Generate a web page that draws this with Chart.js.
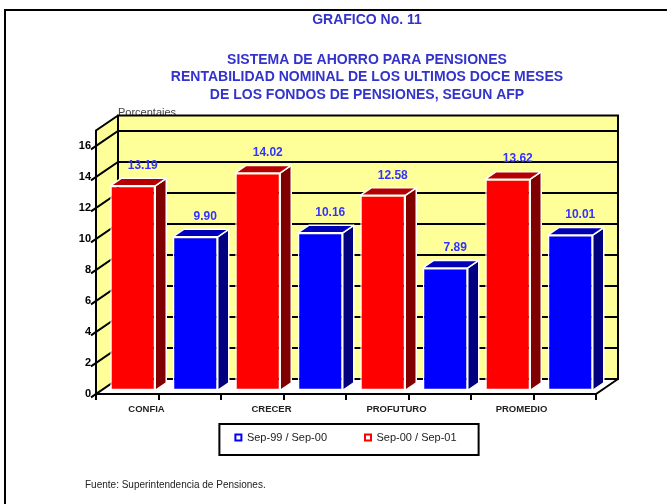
<!DOCTYPE html>
<html lang="es">
<head>
<meta charset="UTF-8">
<title>Grafico No. 11</title>
<script src="https://cdn.jsdelivr.net/npm/chart.js"></script>
<style>
    html, body { margin: 0; padding: 0; background: #fff; }
    #chart { display: block; }
</style>
</head>
<body>
<canvas id="chart" width="667" height="504"></canvas>
<script>
    const categories = ['CONFIA', 'CRECER', 'PROFUTURO', 'PROMEDIO'];
    const seriesNames = ['Sep-00 / Sep-01', 'Sep-99 / Sep-00'];
    const valuesSep00Sep01 = [13.19, 14.02, 12.58, 13.62];
    const valuesSep99Sep00 = [9.90, 10.16, 7.89, 10.01];
    const yTicks = [0, 2, 4, 6, 8, 10, 12, 14, 16];
    const yMax = 17;

    const titleText = 'GRAFICO No. 11';
    const subtitleLines = [
        'SISTEMA DE AHORRO PARA PENSIONES',
        'RENTABILIDAD NOMINAL DE LOS ULTIMOS DOCE MESES',
        'DE LOS FONDOS DE PENSIONES, SEGUN AFP'
    ];
    const axisTitle = 'Porcentajes';
    const sourceNote = 'Fuente: Superintendencia de Pensiones.';

    const FONT = "'Liberation Sans', Arial, sans-serif";
    const WALL = '#FFFF99';
    const DEPTH = { x: 22, y: -15 };   // depth of the 3d box
    const faceColors = [
        { front: '#FF0000', top: '#B40000', side: '#800000' },
        { front: '#0000FF', top: '#0000B8', side: '#000080' }
    ];

    Chart.defaults.font.family = FONT;

    function line(ctx, pts) {
        ctx.beginPath();
        ctx.moveTo(pts[0][0], pts[0][1]);
        for (let i = 1; i < pts.length; i++) ctx.lineTo(pts[i][0], pts[i][1]);
        ctx.stroke();
    }

    function poly(ctx, pts) {
        ctx.beginPath();
        ctx.moveTo(pts[0][0], pts[0][1]);
        for (let i = 1; i < pts.length; i++) ctx.lineTo(pts[i][0], pts[i][1]);
        ctx.closePath();
        ctx.fill();
        ctx.stroke();
    }

    const box3d = {
        id: 'box3d',
        beforeDraw(chart) {
            const ctx = chart.ctx;
            ctx.save();
            ctx.strokeStyle = '#000';
            ctx.lineWidth = 2;
            line(ctx, [[5, chart.height], [5, 10], [chart.width, 10]]);
            ctx.font = '10px ' + FONT;
            ctx.fillStyle = '#222';
            ctx.textBaseline = 'alphabetic';
            ctx.fillText(sourceNote, 85, 488);
            ctx.restore();
        },
        beforeDatasetsDraw(chart) {
            const { ctx, chartArea: a, scales: { y } } = chart;
            const dx = DEPTH.x, dy = DEPTH.y;
            const top = y.getPixelForValue(yMax);
            const bot = y.getPixelForValue(0);
            ctx.save();

            ctx.font = '11px ' + FONT;
            ctx.fillStyle = '#444';
            ctx.textAlign = 'left';
            ctx.textBaseline = 'alphabetic';
            ctx.fillText(axisTitle, a.left + dx, top + dy);

            // side and back walls
            ctx.fillStyle = WALL;
            ctx.beginPath();
            ctx.moveTo(a.left, top);
            ctx.lineTo(a.left + dx, top + dy);
            ctx.lineTo(a.right + dx, top + dy);
            ctx.lineTo(a.right + dx, bot + dy);
            ctx.lineTo(a.left + dx, bot + dy);
            ctx.lineTo(a.left, bot);
            ctx.closePath();
            ctx.fill();

            ctx.strokeStyle = '#000';
            ctx.lineWidth = 2;
            const k = dy / dx;
            yTicks.forEach(v => {
                const py = y.getPixelForValue(v);
                line(ctx, [[a.left - 5, py - k * 5], [a.left + dx, py + dy], [a.right + dx, py + dy]]);
            });
            ctx.strokeRect(a.left + dx, top + dy, a.right - a.left, bot - top);
            line(ctx, [[a.left + dx, top + dy], [a.left, top], [a.left, bot], [a.right, bot], [a.right + dx, bot + dy]]);

            // ticks on the floor edge: category edges and category centres
            const step = (a.right - a.left) / (categories.length * 2);
            ctx.beginPath();
            for (let i = 0; i <= categories.length * 2; i++) {
                const px = Math.round(a.left + i * step);
                ctx.moveTo(px, bot);
                ctx.lineTo(px, bot + 6);
            }
            ctx.stroke();
            ctx.restore();

            // bars stand a quarter of the way into the box
            ctx.save();
            ctx.translate(dx / 4, dy / 4);
        },
        afterDatasetsDraw(chart) {
            const ctx = chart.ctx;
            const sx = DEPTH.x / 2, sy = DEPTH.y / 2;
            ctx.lineWidth = 1.5;
            ctx.strokeStyle = '#fff';
            ctx.lineJoin = 'round';
            chart.data.datasets.forEach((ds, i) => {
                const c = faceColors[i];
                chart.getDatasetMeta(i).data.forEach((bar, j) => {
                    const { x: bx, y: by, base, width } = bar.getProps(['x', 'y', 'base', 'width'], true);
                    const l = bx - width / 2, r = bx + width / 2;
                    ctx.fillStyle = c.side;
                    poly(ctx, [[r, by], [r + sx, by + sy], [r + sx, base + sy], [r, base]]);
                    ctx.fillStyle = c.top;
                    poly(ctx, [[l, by], [l + sx, by + sy], [r + sx, by + sy], [r, by]]);

                    ctx.font = 'bold 12px ' + FONT;
                    ctx.fillStyle = '#3333FF';
                    ctx.textAlign = 'center';
                    ctx.textBaseline = 'middle';
                    ctx.fillText(ds.data[j].toFixed(2), bx + 10, by - 20);
                });
            });
            ctx.restore();
        },
        afterDraw(chart) {
            const ctx = chart.ctx;
            const hb = chart.legend.legendHitBoxes;
            if (!hb || !hb.length) return;
            const l = Math.min(...hb.map(h => h.left)) - 16;
            const r = Math.max(...hb.map(h => h.left + h.width)) + 22;
            const t = hb[0].top - 8;
            ctx.save();
            ctx.strokeStyle = '#000';
            ctx.lineWidth = 2;
            ctx.strokeRect(l, t, r - l, 31);
            ctx.restore();
        }
    };

    new Chart(document.getElementById('chart'), {
        type: 'bar',
        data: {
            labels: categories,
            datasets: [{
                label: seriesNames[0],
                data: valuesSep00Sep01,
                backgroundColor: faceColors[0].front,
                borderColor: '#fff',
                borderWidth: 1.5,
                borderSkipped: false
            }, {
                label: seriesNames[1],
                data: valuesSep99Sep00,
                backgroundColor: faceColors[1].front,
                borderColor: '#fff',
                borderWidth: 1.5,
                borderSkipped: false
            }]
        },
        options: {
            responsive: false,
            animation: false,
            events: [],
            devicePixelRatio: 1,
            categoryPercentage: 1.0,
            barPercentage: 0.72,
            layout: { padding: { left: 67, right: 0, top: 0, bottom: 51 } },
            scales: {
                x: {
                    offset: true,
                    grid: { display: false, drawTicks: false },
                    border: { display: false },
                    ticks: {
                        color: '#222',
                        font: { size: 9.5, weight: 'bold' },
                        // mirrored with a negative padding: labels sit below the axis
                        // without taking height away from the legend
                        mirror: true,
                        padding: -21,
                        labelOffset: -12,
                        maxRotation: 0,
                        autoSkip: false
                    },
                    afterFit(s) { s.height = 0; }
                },
                y: {
                    min: 0,
                    max: yMax,
                    grid: { display: false, drawTicks: false },
                    border: { display: false },
                    ticks: {
                        color: '#000',
                        font: { size: 11, weight: 'bold' },
                        padding: 5
                    },
                    afterBuildTicks(s) { s.ticks = yTicks.map(v => ({ value: v })); },
                    afterFit(s) { s.width = 29; }
                },
                y2: {
                    position: 'right',
                    grid: { display: false },
                    border: { display: false },
                    ticks: { display: false },
                    afterFit(s) { s.width = 71; }
                }
            },
            plugins: {
                title: {
                    display: true,
                    text: titleText,
                    color: '#3333CC',
                    font: { size: 14, weight: 'bold' },
                    padding: { top: 11.4, bottom: 0 }
                },
                subtitle: {
                    display: true,
                    text: subtitleLines,
                    color: '#3333CC',
                    font: { size: 14, weight: 'bold', lineHeight: 1.25 },
                    padding: { top: 22.85, bottom: 26.95 }
                },
                legend: {
                    position: 'bottom',
                    fullSize: false,
                    reverse: true,
                    labels: {
                        color: '#222',
                        font: { size: 11 },
                        boxWidth: 6,
                        boxHeight: 6,
                        padding: 38,
                        generateLabels(chart) {
                            return Chart.defaults.plugins.legend.labels.generateLabels(chart).map(it => {
                                it.strokeStyle = it.fillStyle;
                                it.fillStyle = '#fff';
                                it.lineWidth = 2;
                                return it;
                            });
                        }
                    }
                },
                tooltip: { enabled: false }
            }
        },
        plugins: [box3d]
    });
</script>
</body>
</html>
